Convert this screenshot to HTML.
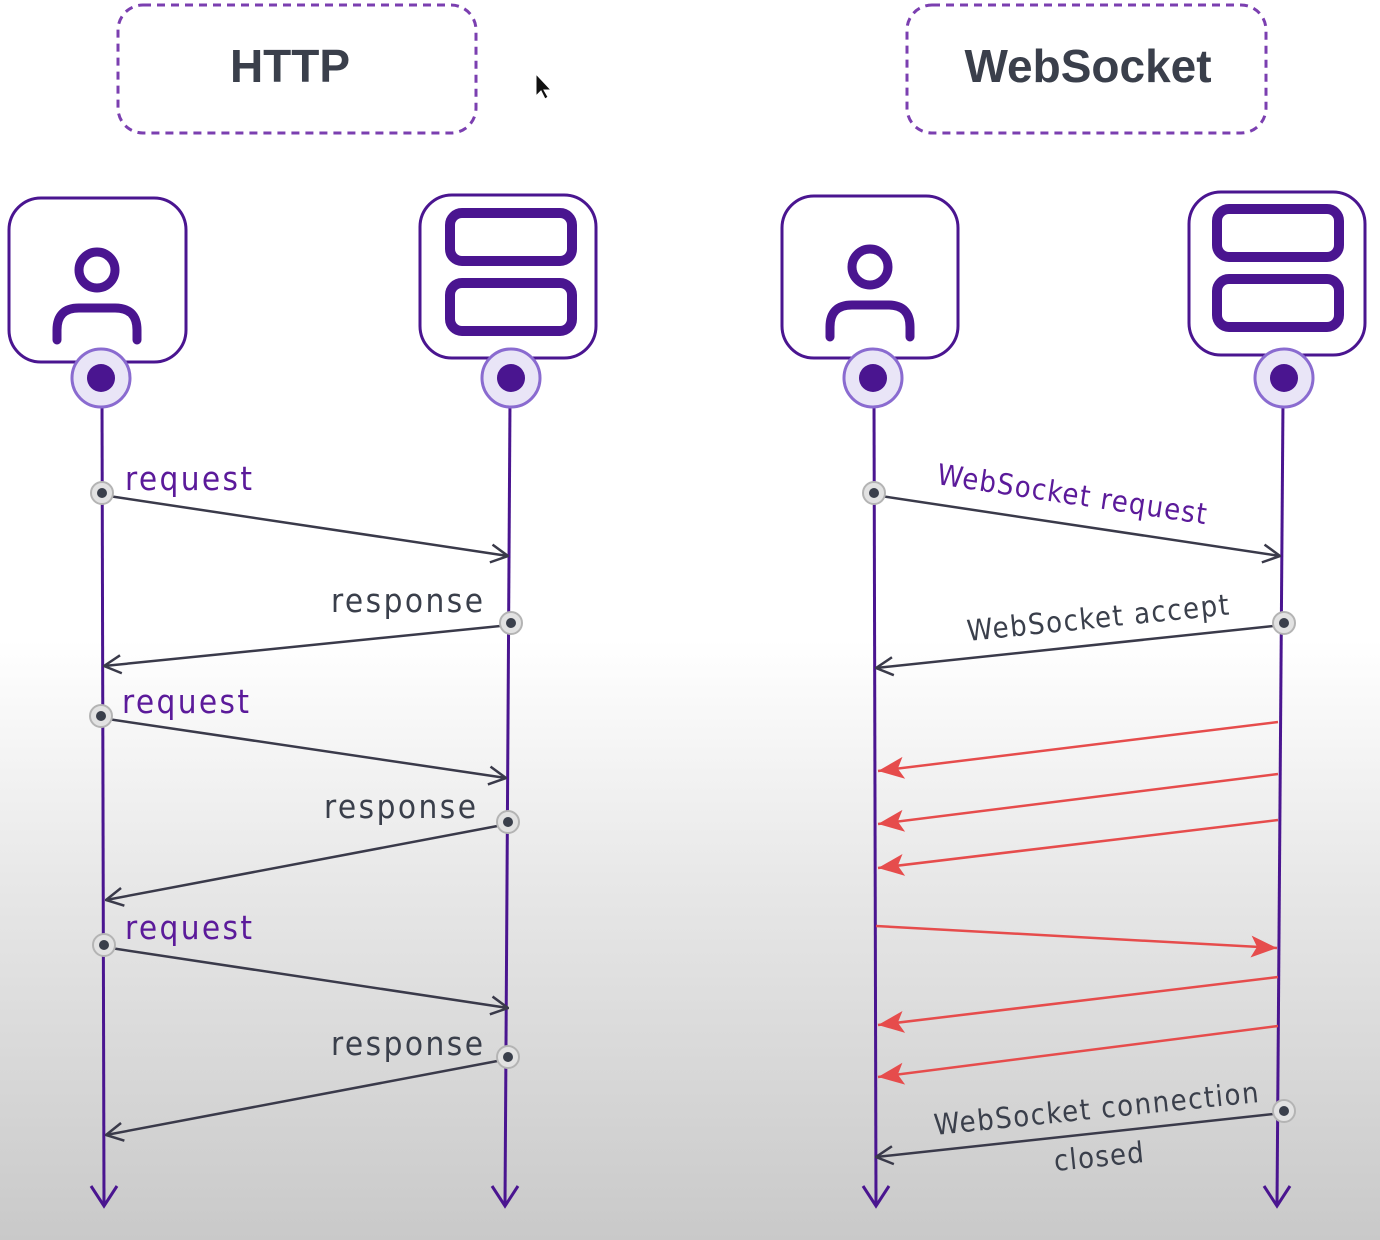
<!DOCTYPE html>
<html><head><meta charset="utf-8"><style>
html,body{margin:0;padding:0;}
body{width:1380px;height:1240px;overflow:hidden;background:linear-gradient(#fff 0px,#fff 640px,#e6e6e6 900px,#c9c9c9 1240px);}
svg{display:block}
text{font-family:"DejaVu Sans Condensed","DejaVu Sans","Liberation Sans",sans-serif;}
</style></head><body>
<svg width="1380" height="1240" viewBox="0 0 1380 1240" xmlns="http://www.w3.org/2000/svg">
<defs>
<marker id="oa" markerWidth="20" markerHeight="24" refX="19" refY="12" orient="auto" markerUnits="userSpaceOnUse"><path d="M2,3 L19,12 L2,21" fill="none" stroke="#3a3a4a" stroke-width="2.5"/></marker>
<marker id="ra" markerWidth="28" markerHeight="24" refX="27" refY="12" orient="auto" markerUnits="userSpaceOnUse"><path d="M1,1 L27,12 L1,23 L7,12 Z" fill="#e64c4c"/></marker>
<g id="dot"><circle r="11" fill="#e2e2e2" stroke="#b4b4b4" stroke-width="2"/><circle r="5" fill="#3a3f4b"/></g>
<g id="port"><circle r="29" fill="#e9e5f7" stroke="#8a6bd0" stroke-width="3"/><circle r="14" fill="#4a1590"/></g>
<g id="user"><circle cx="0" cy="-8" r="18" fill="none" stroke="#4a1590" stroke-width="9"/><path d="M-40,62 V52 Q-40,30 -18,30 H18 Q40,30 40,52 V62" fill="none" stroke="#4a1590" stroke-width="9" stroke-linecap="round"/></g>
<g id="srv"><rect x="-60" y="-62" width="122" height="48" rx="12" fill="none" stroke="#4a1590" stroke-width="10"/><rect x="-60" y="8" width="122" height="48" rx="12" fill="none" stroke="#4a1590" stroke-width="10"/></g>
</defs>

<rect x="118" y="5" width="358" height="128" rx="25" fill="none" stroke="#7b3fb0" stroke-width="3" stroke-dasharray="8,6"/>
<text x="290" y="82" font-size="46" font-weight="bold" fill="#3a3f4b" text-anchor="middle" style="font-family:'Liberation Sans',sans-serif">HTTP</text>
<rect x="907" y="5" width="359" height="128" rx="25" fill="none" stroke="#7b3fb0" stroke-width="3" stroke-dasharray="8,6"/>
<text x="1088" y="82" font-size="46" font-weight="bold" fill="#3a3f4b" text-anchor="middle" style="font-family:'Liberation Sans',sans-serif">WebSocket</text>
<path d="M536,74 L536,96 L541,91 L545,99 L548,97 L544,90 L551,90 Z" fill="#111" stroke="#fff" stroke-width="1"/>

<g stroke="#4a1590" stroke-width="3" fill="none">
<line x1="102" y1="400" x2="104" y2="1205"/><path d="M91,1186 L104,1206 L117,1186"/>
<line x1="510" y1="400" x2="505" y2="1205"/><path d="M492,1186 L505,1206 L518,1186"/>
<line x1="874" y1="400" x2="876" y2="1205"/><path d="M863,1186 L876,1206 L889,1186"/>
<line x1="1283" y1="400" x2="1277" y2="1205"/><path d="M1264,1186 L1277,1206 L1290,1186"/>
</g>

<rect x="9" y="198" width="177" height="164" rx="32" fill="#fff" stroke="#4a1590" stroke-width="3"/>
<rect x="420" y="195" width="176" height="163" rx="32" fill="#fff" stroke="#4a1590" stroke-width="3"/>
<rect x="782" y="196" width="176" height="162" rx="32" fill="#fff" stroke="#4a1590" stroke-width="3"/>
<rect x="1189" y="192" width="176" height="163" rx="32" fill="#fff" stroke="#4a1590" stroke-width="3"/>
<use href="#user" x="97" y="278"/>
<use href="#srv" x="510" y="275"/>
<use href="#user" x="870" y="275"/>
<use href="#srv" x="1277" y="271"/>
<use href="#port" x="101" y="378"/>
<use href="#port" x="511" y="378"/>
<use href="#port" x="873" y="378"/>
<use href="#port" x="1284" y="378"/>

<g stroke="#3a3a4a" stroke-width="2.5" fill="none" marker-end="url(#oa)">
<line x1="102" y1="495" x2="508" y2="556"/>
<line x1="510" y1="625" x2="104" y2="666"/>
<line x1="101" y1="718" x2="506" y2="778"/>
<line x1="508" y1="824" x2="106" y2="900"/>
<line x1="104" y1="947" x2="508" y2="1008"/>
<line x1="508" y1="1059" x2="106" y2="1135"/>
<line x1="874" y1="495" x2="1280" y2="556"/>
<line x1="1283" y1="625" x2="876" y2="668"/>
<line x1="1283" y1="1113" x2="876" y2="1157"/>
</g>
<use href="#dot" x="102" y="493"/>
<use href="#dot" x="511" y="623"/>
<use href="#dot" x="101" y="716"/>
<use href="#dot" x="508" y="822"/>
<use href="#dot" x="104" y="945"/>
<use href="#dot" x="508" y="1057"/>
<use href="#dot" x="874" y="493"/>
<use href="#dot" x="1284" y="623"/>
<use href="#dot" x="1284" y="1111"/>

<g font-size="33">
<text x="125" y="490" fill="#5b1a9a" textLength="127">request</text>
<text x="331" y="612" fill="#3a3f4b" textLength="152">response</text>
<text x="122" y="713" fill="#5b1a9a" textLength="127">request</text>
<text x="324" y="818" fill="#3a3f4b" textLength="152">response</text>
<text x="125" y="939" fill="#5b1a9a" textLength="127">request</text>
<text x="331" y="1055" fill="#3a3f4b" textLength="152">response</text>
</g>
<g font-size="29">
<text transform="translate(936,484) rotate(8.5)" fill="#5b1a9a" textLength="272">WebSocket request</text>
<text transform="translate(968,641) rotate(-5.8)" fill="#3a3f4b" textLength="263">WebSocket accept</text>
<text transform="translate(935,1135) rotate(-5.8)" fill="#3a3f4b" textLength="326">WebSocket connection</text>
<text transform="translate(1055,1171) rotate(-5.8)" fill="#3a3f4b" textLength="90">closed</text>
</g>

<g stroke="#e64c4c" stroke-width="2.5" fill="none" marker-end="url(#ra)">
<line x1="1278" y1="722" x2="878" y2="771"/>
<line x1="1278" y1="774" x2="878" y2="824"/>
<line x1="1278" y1="820" x2="878" y2="868"/>
<line x1="876" y1="926" x2="1277" y2="948"/>
<line x1="1278" y1="977" x2="878" y2="1025"/>
<line x1="1278" y1="1026" x2="878" y2="1077"/>
</g>
</svg>
</body></html>
